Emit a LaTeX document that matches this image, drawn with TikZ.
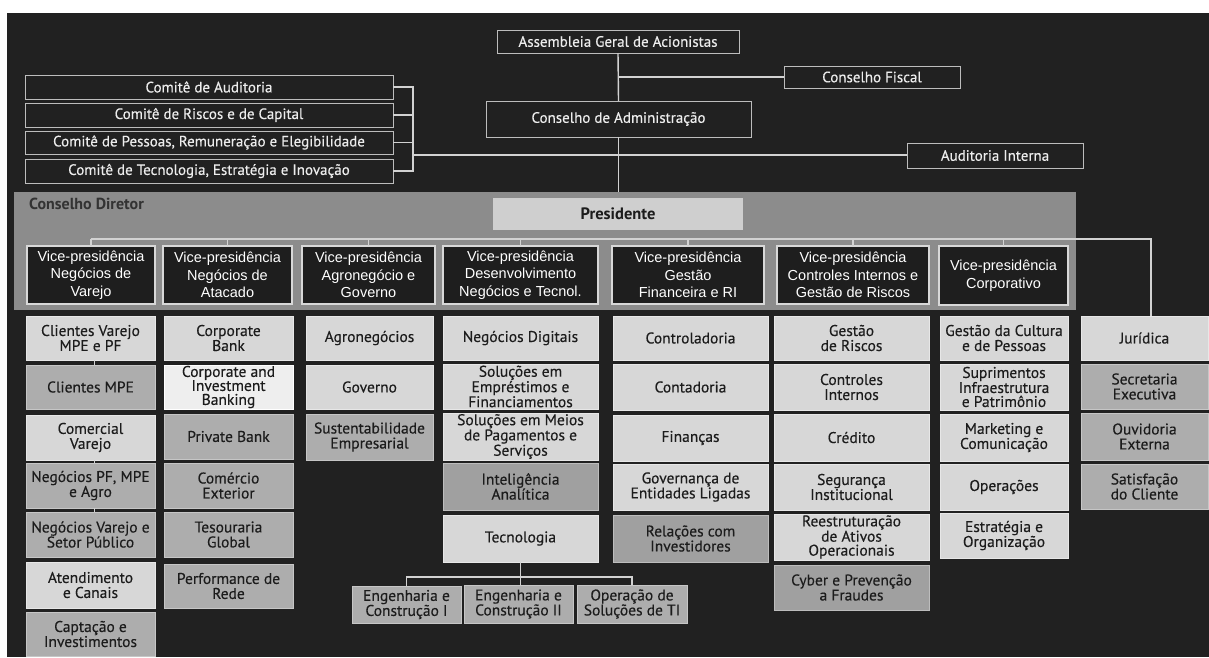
\documentclass[tikz,border=0pt]{standalone}
\usepackage{fontspec}
\setmainfont{PT Sans}
\newfontfamily\boxfont{PT Sans}[FakeBold=0.3]
\newfontfamily\vpfont{Liberation Sans}
\definecolor{bg}{HTML}{212121}
\definecolor{linec}{HTML}{D2D2D2}
\definecolor{topline}{HTML}{BDBDBD}
\definecolor{toptext}{HTML}{EDEDED}
\definecolor{cdgrey}{HTML}{8C8C8C}
\definecolor{presfill}{HTML}{CFCFCF}
\definecolor{vpfill}{HTML}{1E1E1E}
\definecolor{vpline}{HTML}{D8D8D8}
\definecolor{ltfill}{HTML}{D7D7D7}
\definecolor{mdfill}{HTML}{ADADAD}
\definecolor{dkfill}{HTML}{A0A0A0}
\definecolor{wtfill}{HTML}{EEEEEE}
\definecolor{boxtext}{HTML}{1C1C1C}
% box given by its corners: style, name, x1, y1, x2, y2, text
\newcommand\ubox[7]{\node[#1, minimum width={(#5)-(#3)}, minimum height={(#6)-(#4)}] (#2) at ({((#3)+(#5))/2},{((#4)+(#6))/2}) {#7};}
\begin{document}
\begin{tikzpicture}[x=1pt,y=-1pt,
  base/.style={inner sep=0pt, outer sep=0pt, align=center, line width=1pt},
  topbox/.style={base, draw=topline, fill=bg, text=toptext, font=\boxfont\fontsize{15}{16}\selectfont},
  vpbox/.style={base, draw=vpline, fill=vpfill, text=white, line width=1.2pt, font=\vpfont\fontsize{14.5}{17.5}\selectfont},
  unit/.style={base, text=boxtext, font=\boxfont\fontsize{15.5}{15}\selectfont},
  lt/.style={unit, fill=ltfill, draw=ltfill!60!white},
  md/.style={unit, fill=mdfill, draw=mdfill!70!white},
  dk/.style={unit, fill=dkfill, draw=dkfill!70!white},
  wt/.style={unit, fill=wtfill, draw=white, font=\boxfont\fontsize{15.5}{14}\selectfont},
  three/.style={font=\boxfont\fontsize{15.5}{14}\selectfont},
  conn/.style={draw=linec, line width=1.4pt}]

\useasboundingbox (0,0) rectangle (1209,657);
\fill[white] (0,0) rectangle (1209,657);
\fill[bg] (7,13) rectangle (1209,657);

% board and shareholders
\ubox{topbox}{asm}{497}{30}{739}{53}{Assembleia Geral de Acionistas}
\ubox{topbox}{cfis}{784}{66}{960}{88}{Conselho Fiscal}
\ubox{topbox}{cadm}{486}{101}{751}{137}{Conselho de Administração}
\ubox{topbox}{audi}{907}{143}{1083}{168}{Auditoria Interna}

% committees
\ubox{topbox}{c1}{25}{75}{393}{99}{Comitê de Auditoria}
\ubox{topbox}{c2}{25}{103}{393}{127}{Comitê de Riscos e de Capital}
\ubox{topbox}{c3}{25}{131}{393}{154}{Comitê de Pessoas, Remuneração e Elegibilidade}
\ubox{topbox}{c4}{25}{159}{393}{183}{Comitê de Tecnologia, Estratégia e Inovação}

% executive board area
\ubox{base, fill=cdgrey, line width=0pt}{cdir}{14}{192}{1076}{310}{}
\node[anchor=west, inner sep=0pt, text=black!80, font=\bfseries\fontsize{16}{16}\selectfont] (cdlab) at (29,204) {Conselho Diretor};
\ubox{base, fill=presfill, text=boxtext, font=\bfseries\fontsize{16.5}{18}\selectfont}{pres}{493}{198}{743}{230}{Presidente}

% vice-presidencies
\ubox{vpbox}{v1}{27}{246}{155}{304}{Vice-presidência\\Negócios de\\Varejo}
\ubox{vpbox}{v2}{163}{246}{292}{304}{Vice-presidência\\Negócios de\\Atacado}
\ubox{vpbox}{v3}{302}{246}{435}{304}{Vice-presidência\\Agronegócio e\\Governo}
\ubox{vpbox}{v4}{443}{246}{598}{304}{Vice-presidência\\Desenvolvimento\\Negócios e Tecnol.}
\ubox{vpbox}{v5}{612}{246}{764}{304}{Vice-presidência\\Gestão\\Financeira e RI}
\ubox{vpbox}{v6}{777}{246}{929}{304}{Vice-presidência\\Controles Internos e\\Gestão de Riscos}
\ubox{vpbox}{v7}{939}{246}{1068}{305}{Vice-presidência\\Corporativo}

% retail business
\ubox{lt}{a1}{26}{316}{155}{360}{Clientes Varejo\\MPE e PF}
\ubox{md}{a2}{26}{365}{155}{409}{Clientes MPE}
\ubox{lt}{a3}{26}{415}{155}{460}{Comercial\\Varejo}
\ubox{md}{a4}{26}{463}{155}{508}{Negócios PF, MPE\\e Agro}
\ubox{md}{a5}{26}{512}{155}{557}{Negócios Varejo e\\Setor Público}
\ubox{lt}{a6}{26}{562}{155}{608}{Atendimento\\e Canais}
\ubox{md}{a7}{26}{612}{155}{656}{Captação e\\Investimentos}

% wholesale business
\ubox{lt}{b1}{164}{316}{293}{360}{Corporate\\Bank}
\ubox{wt}{b2}{164}{365}{293}{409}{Corporate and\\Investment\\Banking}
\ubox{md}{b3}{164}{414}{293}{459}{Private Bank}
\ubox{md}{b4}{164}{463}{293}{508}{Comércio\\Exterior}
\ubox{md}{b5}{164}{512}{293}{557}{Tesouraria\\Global}
\ubox{md}{b6}{164}{564}{293}{608}{Performance de\\Rede}

% agribusiness and government
\ubox{lt}{g1}{306}{316}{433}{360}{Agronegócios}
\ubox{lt}{g2}{306}{365}{433}{409}{Governo}
\ubox{md}{g3}{306}{414}{433}{460}{Sustentabilidade\\Empresarial}

% business development and technology
\ubox{lt}{d1}{443}{316}{598}{360}{Negócios Digitais}
\ubox{lt,three}{d2}{443}{364}{598}{409}{Soluções em\\Empréstimos e\\Financiamentos}
\ubox{lt,three}{d3}{443}{413}{598}{460}{Soluções em Meios\\de Pagamentos e\\Serviços}
\ubox{dk}{d4}{443}{463}{598}{510}{Inteligência\\Analítica}
\ubox{lt}{d5}{443}{515}{598}{562}{Tecnologia}
\ubox{md}{e1}{352}{586}{461}{623}{Engenharia e\\Construção I}
\ubox{md}{e2}{464}{585}{573}{623}{Engenharia e\\Construção II}
\ubox{md}{e3}{577}{585}{687}{623}{Operação de\\Soluções de TI}

% finance and investor relations
\ubox{lt}{f1}{613}{316}{768}{360}{Controladoria}
\ubox{lt}{f2}{613}{364}{768}{410}{Contadoria}
\ubox{lt}{f3}{613}{415}{768}{461}{Finanças}
\ubox{lt}{f4}{613}{464}{768}{510}{Governança de\\Entidades Ligadas}
\ubox{dk}{f5}{613}{515}{768}{562}{Relações com\\Investidores}

% internal controls and risk
\ubox{lt}{h1}{774}{316}{929}{360}{Gestão\\de Riscos}
\ubox{lt}{h2}{774}{364}{929}{410}{Controles\\Internos}
\ubox{lt}{h3}{774}{414}{929}{461}{Crédito}
\ubox{lt}{h4}{774}{464}{929}{510}{Segurança\\Institucional}
\ubox{lt,three}{h5}{774}{514}{929}{560}{Reestruturação\\de Ativos\\Operacionais}
\ubox{dk}{h6}{774}{565}{929}{610}{Cyber e Prevenção\\a Fraudes}

% corporate
\ubox{lt}{k1}{940}{316}{1068}{360}{Gestão da Cultura\\e de Pessoas}
\ubox{lt,three}{k2}{940}{364}{1068}{410}{Suprimentos\\Infraestrutura\\e Patrimônio}
\ubox{lt}{k3}{940}{414}{1068}{461}{Marketing e\\Comunicação}
\ubox{lt}{k4}{940}{464}{1068}{510}{Operações}
\ubox{lt}{k5}{940}{513}{1068}{558}{Estratégia e\\Organização}

% units reporting to the president
\ubox{lt}{jur}{1081}{316}{1208}{360}{Jurídica}
\ubox{md}{m2}{1081}{364}{1208}{409}{Secretaria\\Executiva}
\ubox{md}{m3}{1081}{413}{1208}{460}{Ouvidoria\\Externa}
\ubox{md}{m4}{1081}{464}{1208}{509}{Satisfação\\do Cliente}

% connectors: board level
\draw[conn] (asm.south) -- (cadm.north);
\draw[conn] (asm.south |- cfis.west) -- (cfis.west);
\draw[conn] (cadm.south) -- (cadm.south |- cdir.north);
\coordinate (bk) at (413,155);
\foreach \c in {c1,c2,c3,c4} \draw[conn] (\c.east) -| (bk);
\draw[conn] (bk) -- (bk -| audi.west);

% connectors: vice-presidencies
\coordinate (bus) at (0,239);
\draw[conn] (v1.north |- bus) -| ([xshift=6.5pt]jur.north);
\foreach \v in {v1,v2,v3,v4,v5,v6,v7} \draw[conn] (\v.north |- bus) -- (\v.north);

% connectors: technology units
\coordinate (tb) at (0,577);
\draw[conn] (d5.south) -- (d5.south |- tb);
\draw[conn] (e1.north) -- (e1.north |- tb) -- (e3.north |- tb) -- (e3.north);
\draw[conn] (d5.south |- tb) -- (e2.north -| d5.south);

% small links in the retail column
\draw[conn, line width=1pt] ([xshift=3.5pt]a1.south) -- ([xshift=3.5pt]a2.north);
\draw[conn, line width=1pt] ([xshift=3.5pt]a3.south) -- ([xshift=3.5pt]a4.north);
\draw[conn, line width=1pt] ([xshift=3.5pt]a4.south) -- ([xshift=3.5pt]a5.north);
\end{tikzpicture}
\end{document}
